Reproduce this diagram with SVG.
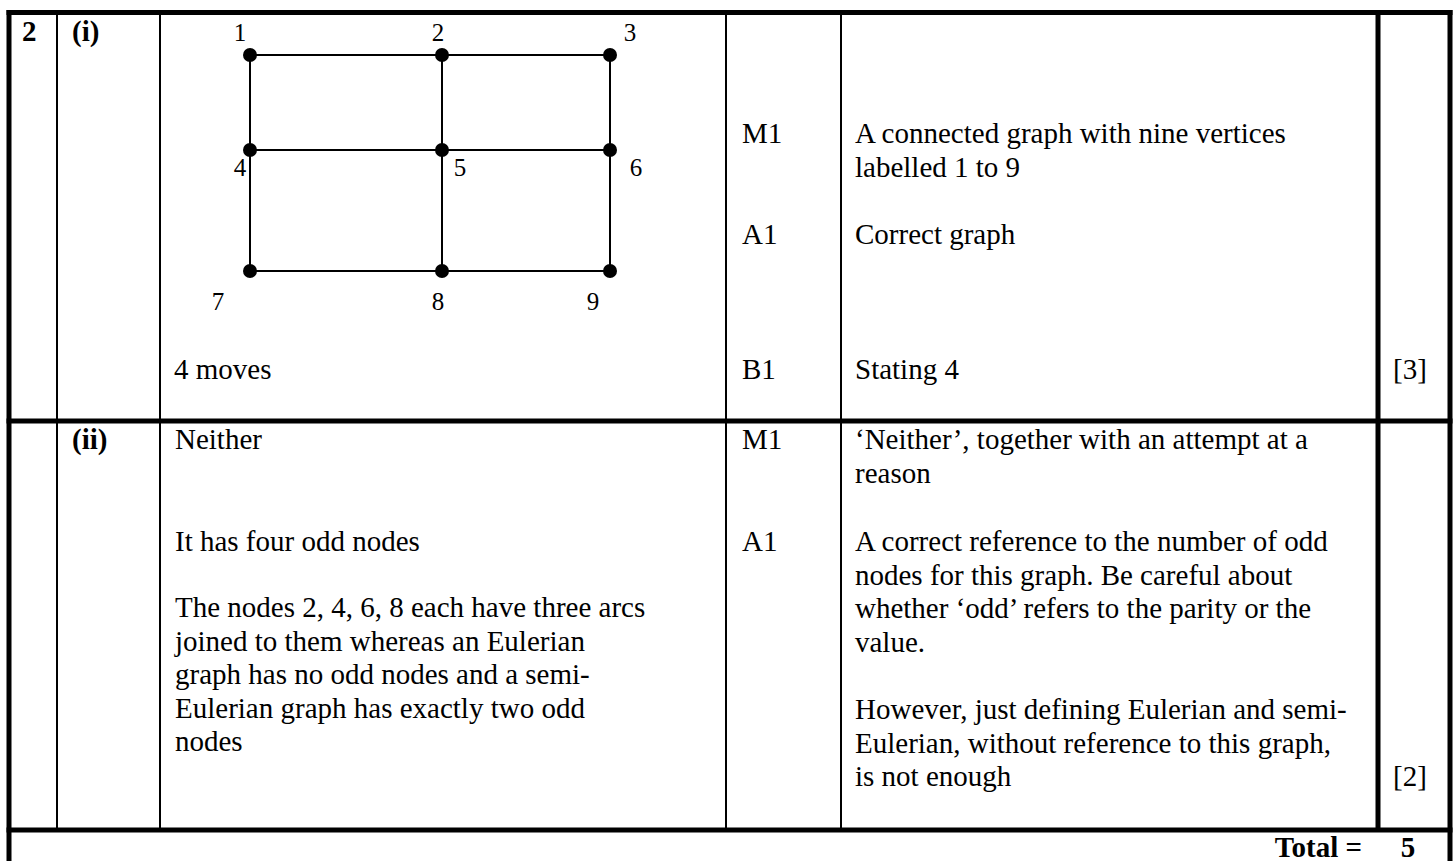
<svg xmlns="http://www.w3.org/2000/svg" width="1453" height="861" viewBox="0 0 1453 861">
<style>
text{font-family:"Liberation Serif","Times New Roman",serif;font-size:29px;fill:#000}
.b{font-weight:bold}
.lbl{font-size:25px;text-anchor:middle}
.thin{stroke:#000;stroke-width:2;fill:none}
.thick{stroke:#000;stroke-width:5;fill:none}
.edge{stroke:#000;stroke-width:2;fill:none}
.v{fill:#000}
</style>
<rect width="1453" height="861" fill="#fff"/>
<g id="table">
<line class="thick" x1="9" y1="10" x2="9" y2="861"/>
<line class="thick" x1="1450" y1="10" x2="1450" y2="861"/>
<line class="thick" x1="6.5" y1="12.5" x2="1452.5" y2="12.5"/>
<line class="thick" x1="6.5" y1="421" x2="1452.5" y2="421"/>
<line class="thick" x1="6.5" y1="830" x2="1452.5" y2="830"/>
<line class="thin" x1="57" y1="12" x2="57" y2="830"/>
<line class="thin" x1="160" y1="12" x2="160" y2="830"/>
<line class="thin" x1="726" y1="12" x2="726" y2="830"/>
<line class="thin" x1="841" y1="12" x2="841" y2="830"/>
<line class="thick" x1="1378" y1="12" x2="1378" y2="830"/>
</g>
<g id="connectors">
<line class="edge" x1="250" y1="55" x2="610" y2="55"/>
<line class="edge" x1="250" y1="150" x2="610" y2="150"/>
<line class="edge" x1="250" y1="271" x2="610" y2="271"/>
<line class="edge" x1="250" y1="55" x2="250" y2="271"/>
<line class="edge" x1="442" y1="55" x2="442" y2="271"/>
<line class="edge" x1="610" y1="55" x2="610" y2="271"/>
</g>
<g id="v1"><circle class="v" cx="250" cy="55" r="7"/><text class="lbl" x="240" y="41">1</text></g>
<g id="v2"><circle class="v" cx="442" cy="55" r="7"/><text class="lbl" x="438" y="41">2</text></g>
<g id="v3"><circle class="v" cx="610" cy="55" r="7"/><text class="lbl" x="630" y="41">3</text></g>
<g id="v4"><circle class="v" cx="250" cy="150" r="7"/><text class="lbl" x="240" y="176">4</text></g>
<g id="v5"><circle class="v" cx="442" cy="150" r="7"/><text class="lbl" x="460" y="176">5</text></g>
<g id="v6"><circle class="v" cx="610" cy="150" r="7"/><text class="lbl" x="636" y="176">6</text></g>
<g id="v7"><circle class="v" cx="250" cy="271" r="7"/><text class="lbl" x="218" y="310">7</text></g>
<g id="v8"><circle class="v" cx="442" cy="271" r="7"/><text class="lbl" x="438" y="310">8</text></g>
<g id="v9"><circle class="v" cx="610" cy="271" r="7"/><text class="lbl" x="593" y="310">9</text></g>
<g id="row1">
<text class="b" x="22" y="41">2</text>
<text class="b" x="72" y="41">(i)</text>
<text x="174" y="379">4 moves</text>
<text x="742" y="143">M1</text>
<text x="855" y="143">A connected graph with nine vertices</text>
<text x="855" y="176.5">labelled 1 to 9</text>
<text x="742" y="244">A1</text>
<text x="855" y="244">Correct graph</text>
<text x="742" y="379">B1</text>
<text x="855" y="379">Stating 4</text>
<text x="1393" y="379">[3]</text>
</g>
<g id="row2">
<text class="b" x="72" y="449">(ii)</text>
<text x="175" y="449">Neither</text>
<text x="175" y="551">It has four odd nodes</text>
<text x="175" y="617">The nodes 2, 4, 6, 8 each have three arcs</text>
<text x="175" y="650.5">joined to them whereas an Eulerian</text>
<text x="175" y="684">graph has no odd nodes and a semi-</text>
<text x="175" y="717.5">Eulerian graph has exactly two odd</text>
<text x="175" y="751">nodes</text>
<text x="742" y="449">M1</text>
<text x="855" y="449">‘Neither’, together with an attempt at a</text>
<text x="855" y="482.5">reason</text>
<text x="742" y="551">A1</text>
<text x="855" y="551">A correct reference to the number of odd</text>
<text x="855" y="584.5">nodes for this graph. Be careful about</text>
<text x="855" y="618">whether ‘odd’ refers to the parity or the</text>
<text x="855" y="651.5">value.</text>
<text x="855" y="719">However, just defining Eulerian and semi-</text>
<text x="855" y="752.5">Eulerian, without reference to this graph,</text>
<text x="855" y="786">is not enough</text>
<text x="1393" y="786">[2]</text>
</g>
<g id="total">
<text class="b" x="1362" y="857" text-anchor="end">Total =</text>
<text class="b" x="1408" y="857" text-anchor="middle">5</text>
</g>
</svg>
